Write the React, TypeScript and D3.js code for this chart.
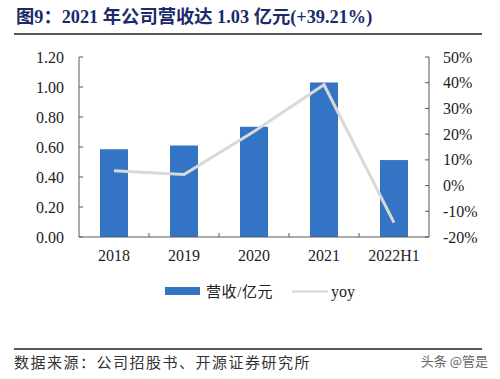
import React from "react";
import * as d3 from "d3";

const categories = ["2018", "2019", "2020", "2021", "2022H1"];
const revenue = [0.585, 0.61, 0.735, 1.03, 0.513];
const yoy = [5.8, 4.3, 21.0, 39.21, -14.4];
const leftTicks = [0, 0.2, 0.4, 0.6, 0.8, 1.0, 1.2];
const rightTicks = [-20, -10, 0, 10, 20, 30, 40, 50];

const W = 500;
const H = 379;
const plotL = 79;
const plotR = 429;
const plotT = 57;
const plotB = 237;
const serif = "'Liberation Serif', 'Times New Roman', serif";
const cjk = "'Noto Sans CJK SC', sans-serif";

export default function App() {
  const xc = d3.scaleBand<string>().domain(categories).range([plotL, plotR]);
  const yL = d3.scaleLinear().domain([0, 1.2]).range([plotB, plotT]);
  const yR = d3.scaleLinear().domain([-20, 50]).range([plotB, plotT]);
  const line = d3
    .line<number>()
    .x((_, i) => (xc(categories[i]) as number) + xc.bandwidth() / 2)
    .y((d) => yR(d));
  const boundaries = d3.range(1, categories.length).map((i) => plotL + i * xc.bandwidth());

  return (
    <svg width={W} height={H} style={{ position: "absolute", left: 0, top: 0, background: "#fff" }}>
      <text x={16} y={23} fontFamily={`${serif}, ${cjk}`} fontWeight="bold" fontSize={18.3} fill="#1c2a6b">
        图9：2021 年公司营收达 1.03 亿元(+39.21%)
      </text>
      <line x1={14} x2={482} y1={34} y2={34} stroke="#222" strokeWidth={1.5} />

      {categories.map((c, i) => (
        <rect
          key={c}
          x={(xc(c) as number) + xc.bandwidth() * 0.3}
          width={xc.bandwidth() * 0.4}
          y={yL(revenue[i])}
          height={plotB - yL(revenue[i])}
          fill="#3474c5"
        />
      ))}
      <path d={line(yoy) || ""} fill="none" stroke="#d9d9d9" strokeWidth={3} />

      {/* left axis */}
      <line x1={plotL} x2={plotL} y1={plotT} y2={plotB} stroke="#595959" />
      {leftTicks.map((t) => (
        <g key={t}>
          <line x1={plotL} x2={plotL + 4} y1={yL(t)} y2={yL(t)} stroke="#595959" />
          <text x={64} y={yL(t) + 5.5} textAnchor="end" fontFamily={serif} fontSize={16} fill="#222">
            {t.toFixed(2)}
          </text>
        </g>
      ))}
      {/* right axis */}
      <line x1={plotR} x2={plotR} y1={plotT} y2={plotB} stroke="#595959" />
      {rightTicks.map((t) => (
        <g key={t}>
          <line x1={plotR - 4} x2={plotR} y1={yR(t)} y2={yR(t)} stroke="#595959" />
          <text x={443} y={yR(t) + 5.5} textAnchor="start" fontFamily={serif} fontSize={16} fill="#222">
            {t}%
          </text>
        </g>
      ))}
      {/* bottom axis */}
      <line x1={plotL} x2={plotR} y1={plotB} y2={plotB} stroke="#595959" />
      {boundaries.map((b, i) => (
        <line key={i} x1={b} x2={b} y1={plotB} y2={plotB - 4} stroke="#595959" />
      ))}
      {categories.map((c) => (
        <text
          key={c}
          x={(xc(c) as number) + xc.bandwidth() / 2}
          y={261}
          textAnchor="middle"
          fontFamily={serif}
          fontSize={16}
          fill="#222"
        >
          {c}
        </text>
      ))}

      {/* legend */}
      <rect x={165} y={287} width={35} height={8} fill="#3474c5" />
      <text x={206} y={297} fontFamily={`${serif}, ${cjk}`} fontSize={15} letterSpacing={0.6} fill="#222">
        营收/亿元
      </text>
      <line x1={292} x2={328} y1={291.5} y2={291.5} stroke="#dcdcdc" strokeWidth={2.5} />
      <text x={331} y={297} fontFamily={serif} fontSize={16} fill="#222">
        yoy
      </text>

      {/* footer */}
      <line x1={14} x2={482} y1={349} y2={349} stroke="#222" strokeWidth={1.5} />
      <text x={14} y={368} fontFamily={cjk} fontSize={15} letterSpacing={1.5} fill="#333">
        数据来源：公司招股书、开源证券研究所
      </text>
      <text x={488} y={366} textAnchor="end" fontFamily={cjk} fontSize={13} fill="#666">
        头条 @管是
      </text>
    </svg>
  );
}
